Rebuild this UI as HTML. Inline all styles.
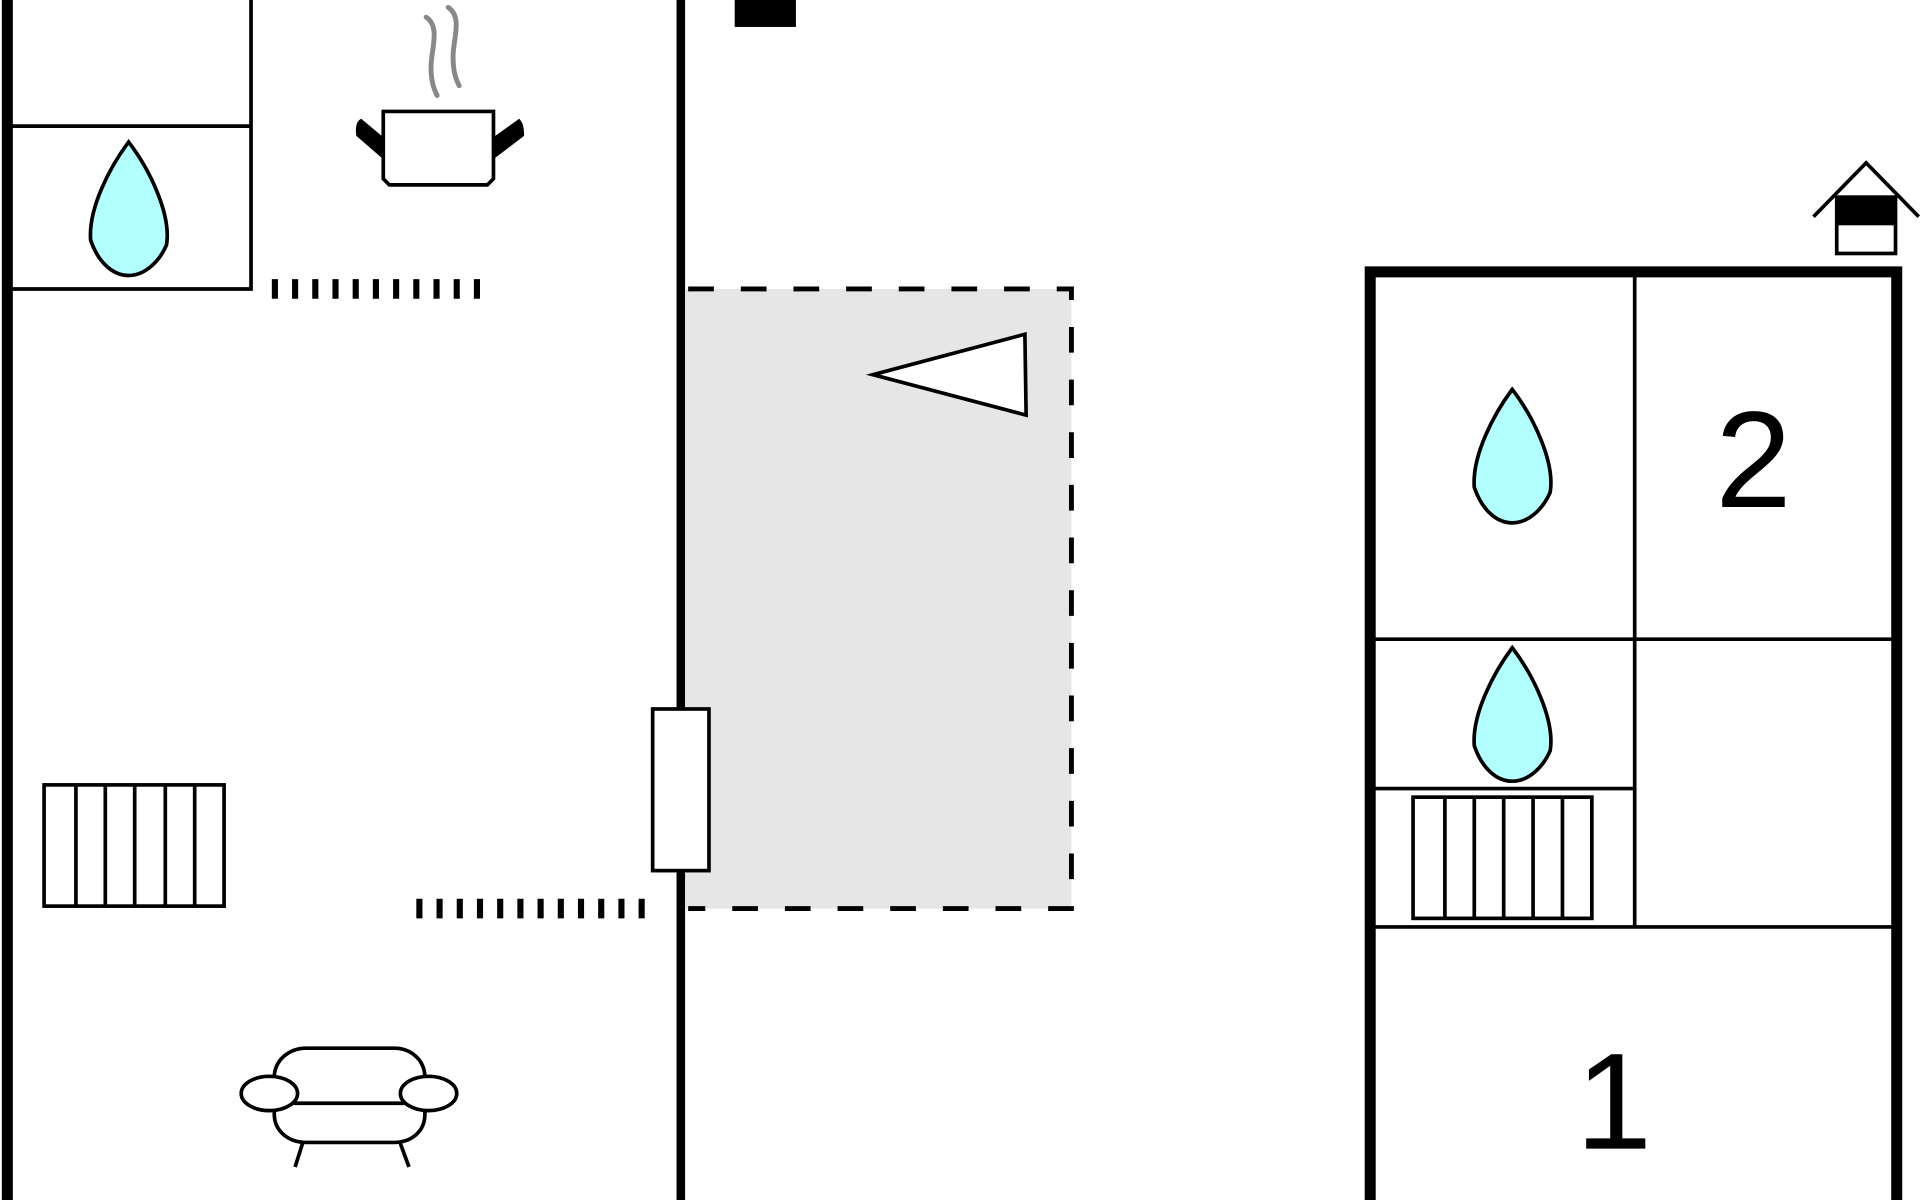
<!DOCTYPE html>
<html><head><meta charset="utf-8"><style>html,body{margin:0;padding:0;background:#fff}svg{display:block}</style></head>
<body>
<svg width="1920" height="1200" viewBox="0 0 1568 980" xmlns="http://www.w3.org/2000/svg" fill="none" stroke="#000">
<rect x="0" y="0" width="1568" height="980" fill="#fff" stroke="none"/>
<!-- left wall -->
<line x1="6" y1="0" x2="6" y2="980" stroke-width="9"/>
<!-- top-left box -->
<polyline points="205,0 205,236 8,236" stroke-width="3"/>
<line x1="8" y1="103" x2="205" y2="103" stroke-width="3"/>
<path d="M105,116 C90,136 72,170 74,196 C80,214 92,225 105,225 C118,225 130,214 136,200 C140,175 122,138 105,116 Z" fill="#b3ffff" stroke-width="3"/>
<!-- dotted lines -->
<line x1="222" y1="236" x2="395" y2="236" stroke-width="16" stroke-dasharray="5 11.5"/>
<line x1="340" y1="742" x2="528" y2="742" stroke-width="16" stroke-dasharray="5 11.5"/>
<!-- pot -->
<path d="M348,14 C360,22 352,40 352,55 C352,66 354,72 357,78" stroke="#888" stroke-width="4" stroke-linecap="round"/>
<path d="M366,6 C378,14 370,32 370,46 C370,58 372,64 375,70" stroke="#888" stroke-width="4" stroke-linecap="round"/>
<path d="M313,91 H403 V146 L398,151 H318 L313,146 Z" fill="#fff" stroke-width="3"/>
<path d="M313,112 L295,97 C291,99 290,104 291,111 L313,130 Z" fill="#000" stroke="none"/>
<path d="M403,112 L424,97 C427,100 428,104 428,111 L403,130 Z" fill="#000" stroke="none"/>
<!-- center wall -->
<line x1="556" y1="0" x2="556" y2="980" stroke-width="7"/>
<rect x="600" y="0" width="50" height="22" fill="#000" stroke="none"/>
<!-- gray area -->
<rect x="560" y="236" width="315" height="506" fill="#e6e6e6" stroke="none"/>
<polyline points="562,236 875,236 875,742 562,742" stroke-width="4" stroke-dasharray="21 22"/>
<polygon points="713,306 837,273 838,339" fill="#fff" stroke-width="3"/>
<rect x="533" y="579" width="46" height="132" fill="#fff" stroke-width="3"/>
<!-- radiator left -->
<rect x="36" y="641" width="147" height="99" fill="#fff" stroke-width="3"/>
<path d="M62,641V740M86,641V740M110,641V740M135,641V740M159,641V740" stroke-width="3"/>
<!-- sofa -->
<g stroke-width="3" fill="#fff">
<path d="M224,880 C224,866 236,856 250,856 H322 C336,856 347,866 347,880 V910 C347,924 336,933 322,933 H250 C236,933 224,924 224,910 Z"/>
<line x1="240" y1="901" x2="330" y2="901"/>
<ellipse cx="220" cy="893" rx="23" ry="14"/>
<ellipse cx="350" cy="893" rx="23" ry="14"/>
<line x1="247" y1="934" x2="241" y2="953"/>
<line x1="327" y1="934" x2="334" y2="953"/>
</g>
<!-- right building -->
<polyline points="1119,980 1119,222 1549,222 1549,980" stroke-width="9"/>
<line x1="1335" y1="222" x2="1335" y2="757" stroke-width="3"/>
<line x1="1119" y1="522" x2="1549" y2="522" stroke-width="3"/>
<line x1="1119" y1="757" x2="1549" y2="757" stroke-width="3"/>
<line x1="1119" y1="644" x2="1335" y2="644" stroke-width="3"/>
<path d="M1235,318 C1220,338 1202,372 1204,398 C1210,416 1222,427 1235,427 C1248,427 1260,416 1266,402 C1270,377 1252,340 1235,318 Z" fill="#b3ffff" stroke-width="3"/>
<path d="M1235,529 C1220,549 1202,583 1204,609 C1210,627 1222,638 1235,638 C1248,638 1260,627 1266,613 C1270,588 1252,551 1235,529 Z" fill="#b3ffff" stroke-width="3"/>
<rect x="1154" y="651" width="146" height="99" fill="#fff" stroke-width="3"/>
<path d="M1180,651V750M1204,651V750M1228,651V750M1252,651V750M1276,651V750" stroke-width="3"/>
<text x="1432" y="414" font-family="Liberation Sans, sans-serif" font-size="112" text-anchor="middle" fill="#000" stroke="none">2</text>
<text x="1318" y="938" font-family="Liberation Sans, sans-serif" font-size="112" text-anchor="middle" fill="#000" stroke="none">1</text>
<!-- house icon -->
<polyline points="1481,177 1524,133 1567,177" stroke-width="3"/>
<rect x="1500" y="161" width="48" height="46" fill="#fff" stroke-width="3"/>
<rect x="1500" y="161" width="48" height="23" fill="#000" stroke="none"/>
</svg>
</body></html>
